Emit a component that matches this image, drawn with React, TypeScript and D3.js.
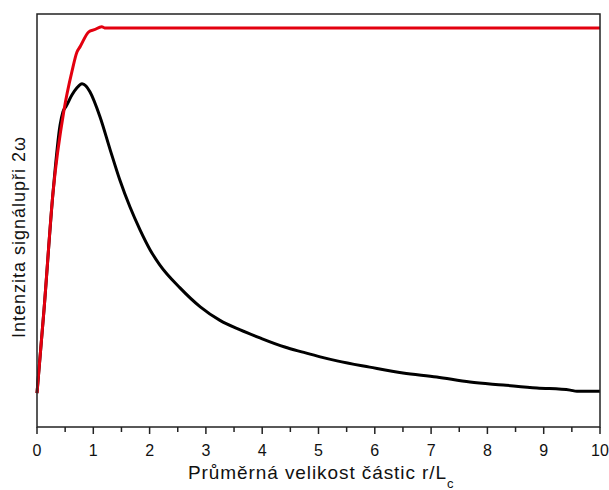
import React from "react";
import * as d3 from "d3";

const xTicks = [0, 1, 2, 3, 4, 5, 6, 7, 8, 9, 10];
const xMinorTicks = [0.5, 1.5, 2.5, 3.5, 4.5, 5.5, 6.5, 7.5, 8.5, 9.5];

const redX = [0, 0.124, 0.284, 0.48, 0.62, 0.71, 0.764, 0.92, 1.02, 1.15, 1.2, 10];
const redY = [0, 0.227, 0.548, 0.775, 0.88, 0.934, 0.948, 0.989, 0.995, 1.003, 1.0, 1.0];

const blackX = [0, 0.124, 0.284, 0.41, 0.46, 0.52, 0.62, 0.71, 0.8, 0.87, 0.94, 1.12, 1.3, 1.47, 1.65, 1.83, 2.01, 2.18, 2.54, 2.9, 3.25, 3.61, 3.96, 4.4, 4.72, 5.03, 5.33, 5.91, 6.5, 7.1, 7.69, 8.28, 8.88, 9.47, 9.59, 10];
const blackY = [0, 0.227, 0.548, 0.734, 0.77, 0.786, 0.816, 0.836, 0.847, 0.841, 0.825, 0.756, 0.666, 0.584, 0.51, 0.447, 0.392, 0.351, 0.288, 0.236, 0.199, 0.173, 0.151, 0.126, 0.112, 0.099, 0.088, 0.071, 0.055, 0.044, 0.03, 0.022, 0.014, 0.008, 0.005, 0.005];

const W = 609;
const H = 490;
const left = 37;
const right = 600;
const top = 14;
const bottom = 427;

export default function App() {
  const x = d3.scaleLinear().domain([0, 10]).range([left, right]);
  const y = d3.scaleLinear().domain([-0.093, 1.038]).range([bottom, top]);
  const line = d3
    .line<[number, number]>()
    .x((d) => x(d[0]))
    .y((d) => y(d[1]))
    .curve(d3.curveMonotoneX);
  const red = redX.map((v, i) => [v, redY[i]] as [number, number]);
  const black = blackX.map((v, i) => [v, blackY[i]] as [number, number]);
  const font = "'Liberation Sans', Arial, sans-serif";

  return (
    <svg
      width={W}
      height={H}
      style={{ position: "absolute", left: 0, top: 0, background: "#fff" }}
      fontFamily={font}
    >
      <rect x={0} y={0} width={W} height={H} fill="#fff" />
      <path d={line(black) || ""} fill="none" stroke="#000" strokeWidth={3} strokeLinejoin="round" />
      <path d={line(red) || ""} fill="none" stroke="#e3000f" strokeWidth={3} strokeLinejoin="round" />
      <rect
        x={left}
        y={top}
        width={right - left}
        height={bottom - top}
        fill="none"
        stroke="#222"
        strokeWidth={1.5}
      />
      {xTicks.map((t) => (
        <g key={"M" + t}>
          <line x1={x(t)} x2={x(t)} y1={bottom} y2={bottom + 7} stroke="#222" strokeWidth={1.5} />
          <text x={x(t)} y={456} textAnchor="middle" fontSize={16} fill="#111">
            {t}
          </text>
        </g>
      ))}
      {xMinorTicks.map((t) => (
        <line key={"m" + t} x1={x(t)} x2={x(t)} y1={bottom} y2={bottom + 5} stroke="#222" strokeWidth={1.5} />
      ))}
      <text x={188} y={479} fontSize={19} fill="#111" textLength={258} lengthAdjust="spacing">
        Průměrná velikost částic r/L
      </text>
      <text x={447} y={488} fontSize={13} fill="#111">
        c
      </text>
      <text
        transform={`translate(25, 338) rotate(-90)`}
        fontSize={18}
        fill="#111"
        textLength={201}
        lengthAdjust="spacing"
      >
        Intenzita signálupři 2ω
      </text>
    </svg>
  );
}
